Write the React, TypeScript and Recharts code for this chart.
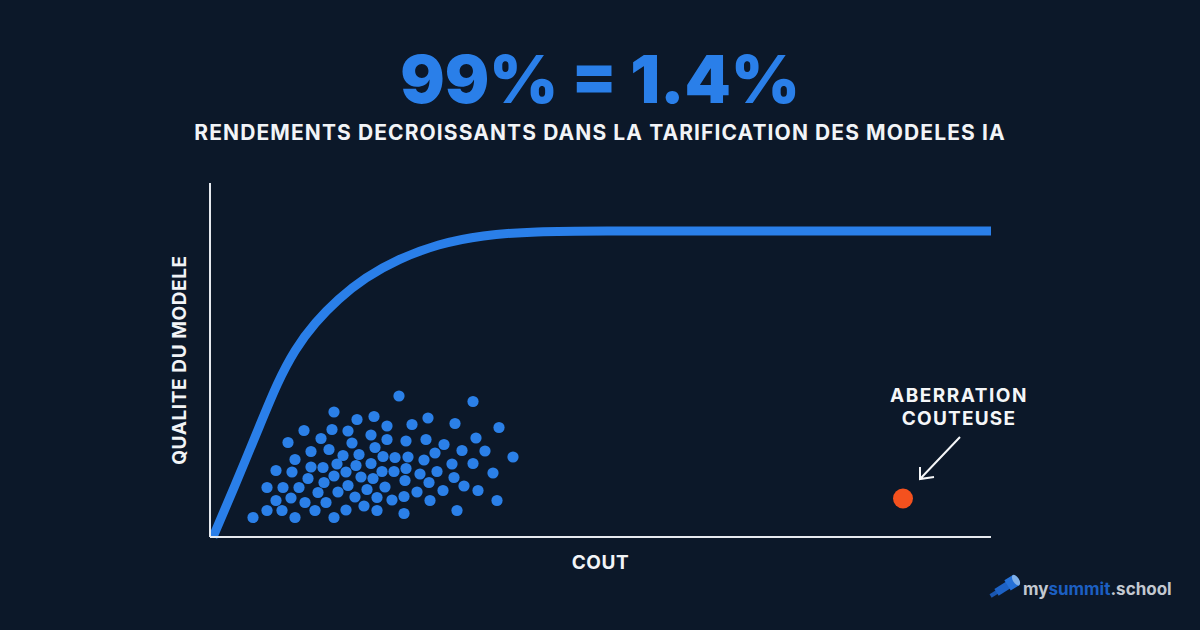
import { ComposedChart, Line, Scatter, XAxis, YAxis } from "recharts"

const curveCost = [0.3, 2.3, 5.2, 6.7, 8.5, 10.5, 12.8, 15.5, 18.8, 22.8, 27.2, 32.5, 39, 50, 78.1]
const curveQuality = [0, 9.3, 23.4, 30.7, 37.6, 42.9, 47.6, 51.9, 55.6, 58.6, 60.4, 61.1, 61.2, 61.2, 61.2]

const modelCost = [
  12.4, 14.7, 16.4, 9.4, 12.2, 13.8, 16.1, 7.8, 11.1, 14.2, 16.5, 10.1, 11.9, 13.3, 14.9, 8.5, 12.7,
  14.6, 16.1, 6.6, 8.2, 10.1, 11.3, 13.6, 12.4, 15.1, 16.3, 9.8, 5.7, 7.3, 8.9, 11.4, 13.8, 15.7,
  10.8, 12.8, 14.5, 16.7, 6.6, 8.1, 9.5, 11.6, 15.4, 5.7, 7.2, 10.5, 13.6, 16.7, 4.3, 8.5, 12.4,
  18.9, 26.3, 17.7, 20.2, 21.8, 24.5, 28.9, 17.7, 19.6, 21.6, 23.4, 26.6, 22.5, 25.2, 27.5, 30.3,
  17.3, 18.5, 19.8, 21.4, 24.2, 26.3, 17.2, 18.4, 19.6, 21, 22.7, 28.3, 19.5, 21.9, 24.4, 25.4,
  17.5, 23.3, 26.8, 20.7, 18.2, 19.4, 22, 28.7, 19.4, 24.7,
]
const modelQuality = [
  25, 23.5, 24.1, 21.3, 21.5, 21.2, 20.4, 18.9, 19.7, 18.8, 17.9, 17.1, 17.5, 16.3, 16.5, 15.5, 14.6,
  14.3, 14.7, 13.3, 13, 14, 13.9, 13, 12.2, 12, 11.7, 11.7, 9.9, 9.9, 9.9, 10.9, 10.3, 9.5,
  8.9, 9, 8, 7.9, 7.3, 7.8, 6.9, 6.9, 6.2, 5.3, 5.3, 5.3, 5.4, 5.3, 3.9, 3.9, 3.9,
  28.2, 27.1, 22.2, 22.5, 23.8, 22.7, 21.9, 19.5, 19.2, 19.5, 18.5, 19.8, 16.8, 17.3, 17.2, 16,
  16.1, 15.9, 16, 15.4, 14.6, 14.7, 13.1, 13.1, 13.7, 12.6, 13.1, 12.8, 11.3, 10.9, 11.9, 10.2,
  10, 9.3, 9.3, 9, 7.4, 8.1, 7.3, 7.3, 4.7, 5.3,
]

const outlierCost = [69.3]
const outlierQuality = [7.7]

const curve = curveCost.map((cost, i) => ({ cost, quality: curveQuality[i] }))
const models = modelCost.map((cost, i) => ({ cost, quality: modelQuality[i] }))
const outlier = outlierCost.map((cost, i) => ({ cost, quality: outlierQuality[i] }))

const FONT = "Inter, sans-serif"
const BLUE = "#2a7fe9"
const AXIS = "#e6e9ee"

const Dot = (props: any) => <circle cx={props.cx} cy={props.cy} r={5.6} fill="#2b80e8" />
const OutlierDot = (props: any) => <circle cx={props.cx} cy={props.cy} r={10} fill="#f4511e" />

export default function App() {
  return (
    <div style={{ position: "absolute", left: 0, top: 0, width: 1200, height: 630, background: "#0c1829", overflow: "hidden" }}>
      <ComposedChart
        width={1200}
        height={630}
        data={curve}
        margin={{ top: 183, right: 209, bottom: 92, left: 209 }}
      >
        <XAxis
          dataKey="cost"
          type="number"
          domain={[0, 78.1]}
          height={1}
          tick={false}
          tickLine={false}
          stroke={AXIS}
          strokeWidth={2}
          label={{ value: "COUT", position: "bottom", offset: 18, fill: "#f2f4f7", fontFamily: FONT, fontWeight: 700, fontSize: 19, letterSpacing: 0.6 }}
        />
        <YAxis
          type="number"
          domain={[0, 70.8]}
          width={1}
          tick={false}
          tickLine={false}
          stroke={AXIS}
          strokeWidth={2}
          label={{ value: "QUALITE DU MODELE", angle: -90, position: "left", offset: 30, fill: "#f2f4f7", fontFamily: FONT, fontWeight: 700, fontSize: 19, letterSpacing: 0.6, style: { textAnchor: "middle" } }}
        />
        <Line dataKey="quality" type="basis" stroke={BLUE} strokeWidth={9} dot={false} activeDot={false} isAnimationActive={false} />
        <Scatter data={models} dataKey="quality" shape={Dot} isAnimationActive={false} />
        <Scatter data={outlier} dataKey="quality" shape={OutlierDot} isAnimationActive={false} />
      </ComposedChart>

      <svg width={1200} height={630} style={{ position: "absolute", left: 0, top: 0 }}>
        <text x={600} y={103} textAnchor="middle" fontFamily={FONT} fontWeight={900} fontSize={66} fill={BLUE}>
          99% = 1.4%
        </text>
        <text x={600} y={140} textAnchor="middle" fontFamily={FONT} fontWeight={700} fontSize={21} letterSpacing={1.1} fill="#f2f4f7">
          RENDEMENTS DECROISSANTS DANS LA TARIFICATION DES MODELES IA
        </text>

        <text x={959} y={402} textAnchor="middle" fontFamily={FONT} fontWeight={700} fontSize={19} letterSpacing={1.5} fill="#f5f6f8">
          ABERRATION
        </text>
        <text x={959} y={425} textAnchor="middle" fontFamily={FONT} fontWeight={700} fontSize={19} letterSpacing={1.2} fill="#f5f6f8">
          COUTEUSE
        </text>
        <path d="M960 437 L920 479 M920 467 L920 479 L934 477" fill="none" stroke="#f5f6f8" strokeWidth={2} />

        <g transform="rotate(-32 1005 587)">
          <rect x={988} y={585} width={8} height={4} fill="#1a56b0" />
          <rect x={995} y={583} width={14} height={8} fill="#1d62c6" />
          <rect x={1008} y={581} width={10} height={12} fill="#2470d8" />
          <ellipse cx={1018} cy={587} rx={3} ry={6} fill="#7fb0ea" />
        </g>
        <text x={1023} y={595} fontFamily={FONT} fontWeight={700} fontSize={17}>
          <tspan fill="#c3c8d0">my</tspan>
          <tspan fill="#1c5fc2">summit</tspan>
          <tspan fill="#c3c8d0">.school</tspan>
        </text>
      </svg>
    </div>
  )
}
